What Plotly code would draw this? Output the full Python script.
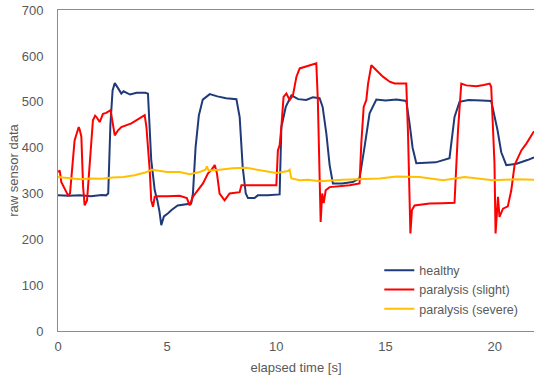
import plotly.graph_objects as go

# ---- data ----
healthy_t = [0, 0.5, 1.0, 1.5, 2.0, 2.2, 2.3, 2.4, 2.5, 2.6, 2.75, 2.9, 3.0, 3.3, 3.6, 4.0, 4.12,
             4.2, 4.27, 4.35, 4.43, 4.55, 4.65, 4.73, 4.85, 5.04, 5.2, 5.48, 5.8, 6.1, 6.18, 6.3,
             6.45, 6.63, 6.95, 7.3, 7.7, 8.17, 8.32, 8.46, 8.6, 8.7, 9.0, 9.15, 9.6, 10.15, 10.23,
             10.43, 10.69, 11.0, 11.37, 11.67, 11.98, 12.12, 12.29, 12.44, 12.59, 13.0, 13.5,
             13.81, 14.04, 14.27, 14.58, 15.0, 15.5, 15.95, 16.1, 16.24, 16.41, 16.8, 17.3, 17.93,
             18.16, 18.39, 18.8, 19.4, 19.84, 20.13, 20.3, 20.53, 21.0, 21.5, 21.73, 21.8]
healthy_v = [296, 295, 296, 294, 297, 296, 300, 450, 525, 541, 530, 518, 523, 516, 520, 520, 518,
             450, 373, 340, 307, 285, 260, 231, 250, 257, 264, 274, 276, 278, 300, 400,
             470, 505, 517, 512, 508, 506, 467, 357, 300, 290, 290, 296, 296, 298, 445,
             489, 514, 506, 504, 510, 508, 489, 431, 362, 322, 322, 325,
             333, 402, 475, 505, 503, 505, 502, 453, 400, 366, 367, 368, 377,
             467, 500, 504, 503, 502, 438, 390, 362, 365, 373, 379, 379]

slight_t = [0, 0.08, 0.15, 0.3, 0.46, 0.55, 0.61, 0.7, 0.76, 0.85, 0.95, 0.99, 1.07, 1.15, 1.22,
            1.33, 1.45, 1.6, 1.7, 1.76, 1.91, 2.06, 2.21, 2.41, 2.47, 2.6, 2.75, 2.9, 3.36, 3.7,
            3.97, 4.05, 4.2, 4.27, 4.35, 4.43, 4.6, 5.0, 5.57, 5.9, 6.03, 6.18, 6.41, 6.64, 6.87,
            7.02, 7.18, 7.28, 7.4, 7.63, 7.86, 8.32, 8.4, 9.0, 9.5, 10.0, 10.07, 10.15, 10.23,
            10.33, 10.46, 10.61, 10.76, 10.92, 11.07, 11.52, 11.83, 11.9, 11.97, 12.03, 12.1,
            12.17, 12.26, 12.44, 13.36, 13.81, 13.89, 14.0, 14.12, 14.2, 14.35, 14.5, 14.88,
            15.19, 15.42, 15.95, 16.03, 16.14, 16.21, 16.33, 17.02, 17.6, 18.16, 18.32, 18.47,
            18.7, 19.16, 19.5, 19.77, 19.84, 19.99, 20.04, 20.15, 20.22, 20.38, 20.6, 20.76,
            20.91, 21.22, 21.45, 21.8]
slight_v = [347, 350, 325, 311, 296, 300, 336, 400, 416, 430, 445, 440, 424, 314, 274,
            285, 373, 460, 470, 467, 456, 474, 476, 482, 464, 427, 438, 445, 453, 462,
            471, 445, 351, 285, 271, 293, 294, 294, 295, 290, 274, 293, 307, 322, 344,
            351, 362, 344, 300, 285, 300, 303, 318, 318, 318, 318, 394, 405, 445,
            511, 518, 504, 514, 555, 573, 580, 584, 504, 350, 238, 300,
            279, 307, 314, 318, 322, 409, 489, 504, 540, 580, 573, 555,
            544, 540, 540, 431, 213, 264, 274, 278, 279, 280, 438, 540,
            536, 534, 537, 540, 533, 366, 213, 293, 249, 267, 272, 307,
            362, 394, 409, 436]

severe_t = [0, 0.5, 1.0, 1.5, 2.0, 2.5, 3.0, 3.5, 4.0, 4.3, 4.6, 5.0, 5.57, 6.03, 6.49, 6.75,
            6.82, 6.9, 7.4, 8.0, 8.63, 9.39, 10.0, 10.53, 10.61, 10.69, 11.07, 11.45, 11.98,
            13.05, 14.73, 15.5, 16.1, 16.56, 17.63, 18.62, 19.92, 21.0, 21.8]
severe_v = [336, 333, 331, 333, 332, 335, 336, 340, 346, 352, 350, 347, 347, 342, 347, 352,
            359, 350, 352, 355, 356, 349, 345, 349, 352, 333, 329, 330, 327,
            330, 333, 337, 336, 336, 329, 336, 329, 331, 330]

series_names = ["healthy", "paralysis (slight)", "paralysis (severe)"]
series_colors = ["#1F3A78", "#FF0000", "#FFC000"]

x_ticks = [0, 5, 10, 15, 20]
y_ticks = [0, 100, 200, 300, 400, 500, 600, 700]

FONT = "Liberation Sans"
GREY = "#595959"

fig = go.Figure()
for name, t, v, c in zip(series_names,
                         [healthy_t, slight_t, severe_t],
                         [healthy_v, slight_v, severe_v],
                         series_colors):
    fig.add_trace(go.Scatter(x=t, y=v, mode="lines", name=name,
                             line=dict(color=c, width=2)))

fig.update_layout(
    width=535, height=378,
    margin=dict(l=58, r=1, t=10, b=47, autoexpand=False),
    paper_bgcolor="white", plot_bgcolor="white",
    font=dict(family=FONT, size=13, color=GREY),
    showlegend=True,
    legend=dict(x=0.675, y=0.235, xanchor="left", yanchor="top",
                bgcolor="rgba(0,0,0,0)", font=dict(size=12.5, color=GREY),
                itemwidth=30, tracegroupgap=0),
)
fig.update_xaxes(range=[0, 21.8], tickvals=x_ticks, showgrid=False, zeroline=False,
                 showline=True, linecolor="#8C8C8C", linewidth=1, mirror=True,
                 ticks="", tickfont=dict(size=13, color=GREY), automargin=False,
                 ticklabelstandoff=3,
                 title=dict(text="elapsed time [s]", font=dict(size=13, color=GREY), standoff=10))
fig.update_yaxes(range=[0, 700.5], tickvals=y_ticks, showgrid=False, zeroline=False,
                 showline=True, linecolor="#8C8C8C", linewidth=1, automargin=False,
                 ticks="", tickfont=dict(size=13, color=GREY), ticklabelstandoff=11,
                 ticklabeloverflow="allow",
                 title=dict(text="raw sensor data", font=dict(size=13, color=GREY), standoff=0))

fig.write_html(
    "out.html",
    config={"displayModeBar": False},
    post_script="document.body.style.margin='0';document.body.style.overflow='hidden';",
)
